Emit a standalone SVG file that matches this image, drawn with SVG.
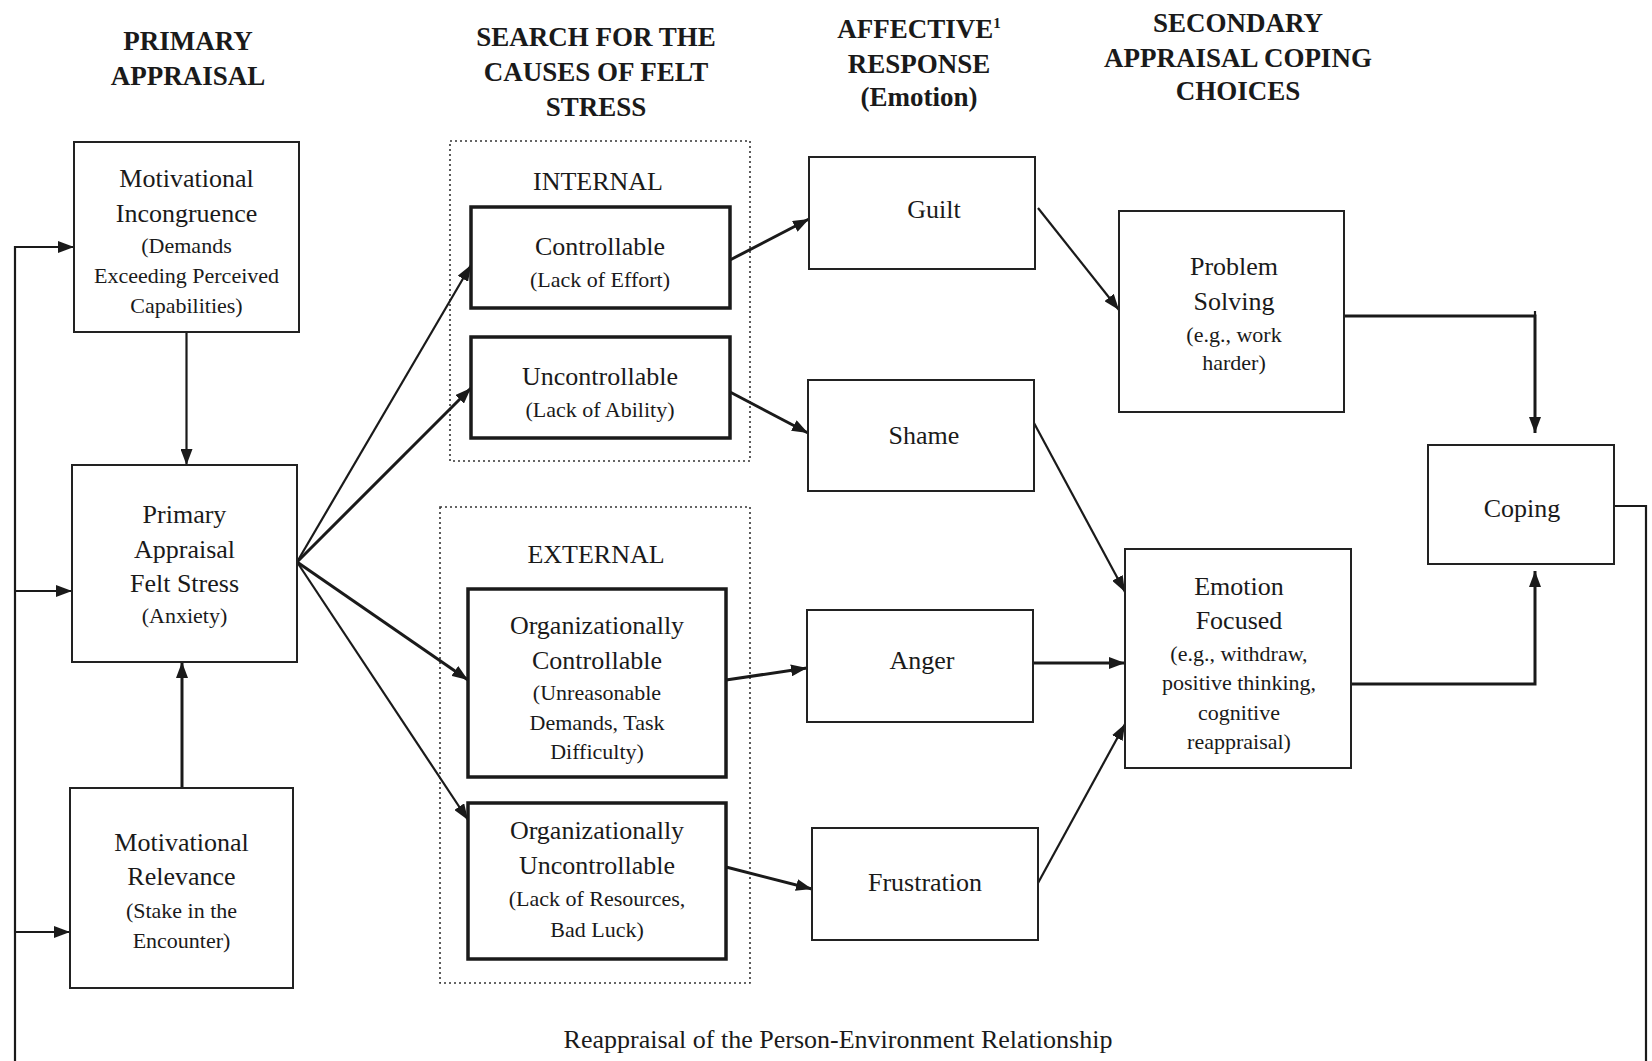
<svg xmlns="http://www.w3.org/2000/svg" width="1652" height="1061" viewBox="0 0 1652 1061">
<style>
text{font-family:"Liberation Serif","Times New Roman",serif;fill:#1a1a1a;text-anchor:middle}
.h{font-size:27px;font-weight:bold}
.t{font-size:26px}
.s{font-size:22px}
.box{fill:#fff;stroke:#222;stroke-width:2}
.thick{fill:#fff;stroke:#1a1a1a;stroke-width:3.5}
.dot{fill:none;stroke:#333;stroke-width:1.6;stroke-dasharray:2 3}
.c{fill:none;stroke:#1a1a1a;stroke-width:2.2}
.cb{fill:none;stroke:#1a1a1a;stroke-width:3}
</style>
<defs>
<marker id="ah" viewBox="0 0 16 12" refX="16" refY="6" markerWidth="16" markerHeight="12" markerUnits="userSpaceOnUse" orient="auto">
<path d="M0,0 L16,6 L0,12 Z" fill="#1a1a1a"/>
</marker>
</defs>
<rect width="1652" height="1061" fill="#fff"/>

<g id="headers">
<text class="h" x="188" y="50">PRIMARY</text>
<text class="h" x="188" y="85">APPRAISAL</text>
<text class="h" x="596" y="46">SEARCH FOR THE</text>
<text class="h" x="596" y="81">CAUSES OF FELT</text>
<text class="h" x="596" y="116">STRESS</text>
<text class="h" x="919" y="38">AFFECTIVE<tspan font-size="15" dy="-10">1</tspan></text>
<text class="h" x="919" y="73">RESPONSE</text>
<text class="h" x="919" y="106">(Emotion)</text>
<text class="h" x="1238" y="32">SECONDARY</text>
<text class="h" x="1238" y="67">APPRAISAL COPING</text>
<text class="h" x="1238" y="100">CHOICES</text>
</g>

<g id="groups">
<rect id="internal" class="dot" x="450" y="141" width="300" height="320"/>
<text class="t" x="598" y="190">INTERNAL</text>
<rect id="external" class="dot" x="440" y="507" width="310" height="476"/>
<text class="t" x="596" y="563">EXTERNAL</text>
</g>

<g id="connectors">
<path class="c" d="M15,1061 V247 H74" marker-end="url(#ah)"/>
<path class="c" d="M15,591 H72" marker-end="url(#ah)"/>
<path class="c" d="M15,932 H70" marker-end="url(#ah)"/>
<path class="c" d="M186.5,332 V465" marker-end="url(#ah)"/>
<path class="cb" d="M182,788 V662" marker-end="url(#ah)"/>
<path class="c" d="M297,562 L471,265" marker-end="url(#ah)"/>
<path class="cb" d="M297,562 L471,388" marker-end="url(#ah)"/>
<path class="cb" d="M297,562 L468,680" marker-end="url(#ah)"/>
<path class="c" d="M297,562 L468,820" marker-end="url(#ah)"/>
<path class="cb" d="M730,260 L809,219" marker-end="url(#ah)"/>
<path class="cb" d="M730,392 L808,433" marker-end="url(#ah)"/>
<path class="cb" d="M726,680 L807,668" marker-end="url(#ah)"/>
<path class="cb" d="M726,867 L812,889" marker-end="url(#ah)"/>
<path class="c" d="M1038,208 L1119,310" marker-end="url(#ah)"/>
<path class="c" d="M1034,423 L1125,592" marker-end="url(#ah)"/>
<path class="cb" d="M1033,663 L1125,663" marker-end="url(#ah)"/>
<path class="c" d="M1038,883 L1125,724" marker-end="url(#ah)"/>
<path class="cb" d="M1344,316 H1535 V433" marker-end="url(#ah)"/>
<path class="c" d="M1535,311 V316"/>
<path class="cb" d="M1351,684 H1535 V571" marker-end="url(#ah)"/>
<path class="c" d="M1614,506 H1646 V1061"/>
</g>

<g id="motivational-incongruence">
<rect class="box" x="74" y="142" width="225" height="190"/>
<text class="t" x="186.5" y="187">Motivational</text>
<text class="t" x="186.5" y="222">Incongruence</text>
<text class="s" x="186.5" y="253">(Demands</text>
<text class="s" x="186.5" y="283">Exceeding Perceived</text>
<text class="s" x="186.5" y="313">Capabilities)</text>
</g>

<g id="primary-appraisal">
<rect class="box" x="72" y="465" width="225" height="197"/>
<text class="t" x="184.5" y="523">Primary</text>
<text class="t" x="184.5" y="558">Appraisal</text>
<text class="t" x="184.5" y="592">Felt Stress</text>
<text class="s" x="184.5" y="623">(Anxiety)</text>
</g>

<g id="motivational-relevance">
<rect class="box" x="70" y="788" width="223" height="200"/>
<text class="t" x="181.5" y="851">Motivational</text>
<text class="t" x="181.5" y="885">Relevance</text>
<text class="s" x="181.5" y="918">(Stake in the</text>
<text class="s" x="181.5" y="948">Encounter)</text>
</g>

<g id="controllable">
<rect class="thick" x="471" y="207" width="259" height="101"/>
<text class="t" x="600" y="255">Controllable</text>
<text class="s" x="600" y="287">(Lack of Effort)</text>
</g>

<g id="uncontrollable">
<rect class="thick" x="471" y="337" width="259" height="101"/>
<text class="t" x="600" y="385">Uncontrollable</text>
<text class="s" x="600" y="417">(Lack of Ability)</text>
</g>

<g id="org-controllable">
<rect class="thick" x="468" y="589" width="258" height="188"/>
<text class="t" x="597" y="634">Organizationally</text>
<text class="t" x="597" y="669">Controllable</text>
<text class="s" x="597" y="700">(Unreasonable</text>
<text class="s" x="597" y="730">Demands, Task</text>
<text class="s" x="597" y="759">Difficulty)</text>
</g>

<g id="org-uncontrollable">
<rect class="thick" x="468" y="803" width="258" height="156"/>
<text class="t" x="597" y="839">Organizationally</text>
<text class="t" x="597" y="874">Uncontrollable</text>
<text class="s" x="597" y="906">(Lack of Resources,</text>
<text class="s" x="597" y="937">Bad Luck)</text>
</g>

<g id="guilt">
<rect class="box" x="809" y="157" width="226" height="112"/>
<text class="t" x="934" y="218">Guilt</text>
</g>

<g id="shame">
<rect class="box" x="808" y="380" width="226" height="111"/>
<text class="t" x="924" y="444">Shame</text>
</g>

<g id="anger">
<rect class="box" x="807" y="610" width="226" height="112"/>
<text class="t" x="922" y="669">Anger</text>
</g>

<g id="frustration">
<rect class="box" x="812" y="828" width="226" height="112"/>
<text class="t" x="925" y="891">Frustration</text>
</g>

<g id="problem-solving">
<rect class="box" x="1119" y="211" width="225" height="201"/>
<text class="t" x="1234" y="275">Problem</text>
<text class="t" x="1234" y="310">Solving</text>
<text class="s" x="1234" y="342">(e.g., work</text>
<text class="s" x="1234" y="370">harder)</text>
</g>

<g id="emotion-focused">
<rect class="box" x="1125" y="549" width="226" height="219"/>
<text class="t" x="1239" y="595">Emotion</text>
<text class="t" x="1239" y="629">Focused</text>
<text class="s" x="1239" y="661">(e.g., withdraw,</text>
<text class="s" x="1239" y="690">positive thinking,</text>
<text class="s" x="1239" y="720">cognitive</text>
<text class="s" x="1239" y="749">reappraisal)</text>
</g>

<g id="coping">
<rect class="box" x="1428" y="445" width="186" height="119" stroke="#555"/>
<text class="t" x="1522" y="517">Coping</text>
</g>

<text class="t" x="838" y="1048">Reappraisal of the Person-Environment Relationship</text>
</svg>
